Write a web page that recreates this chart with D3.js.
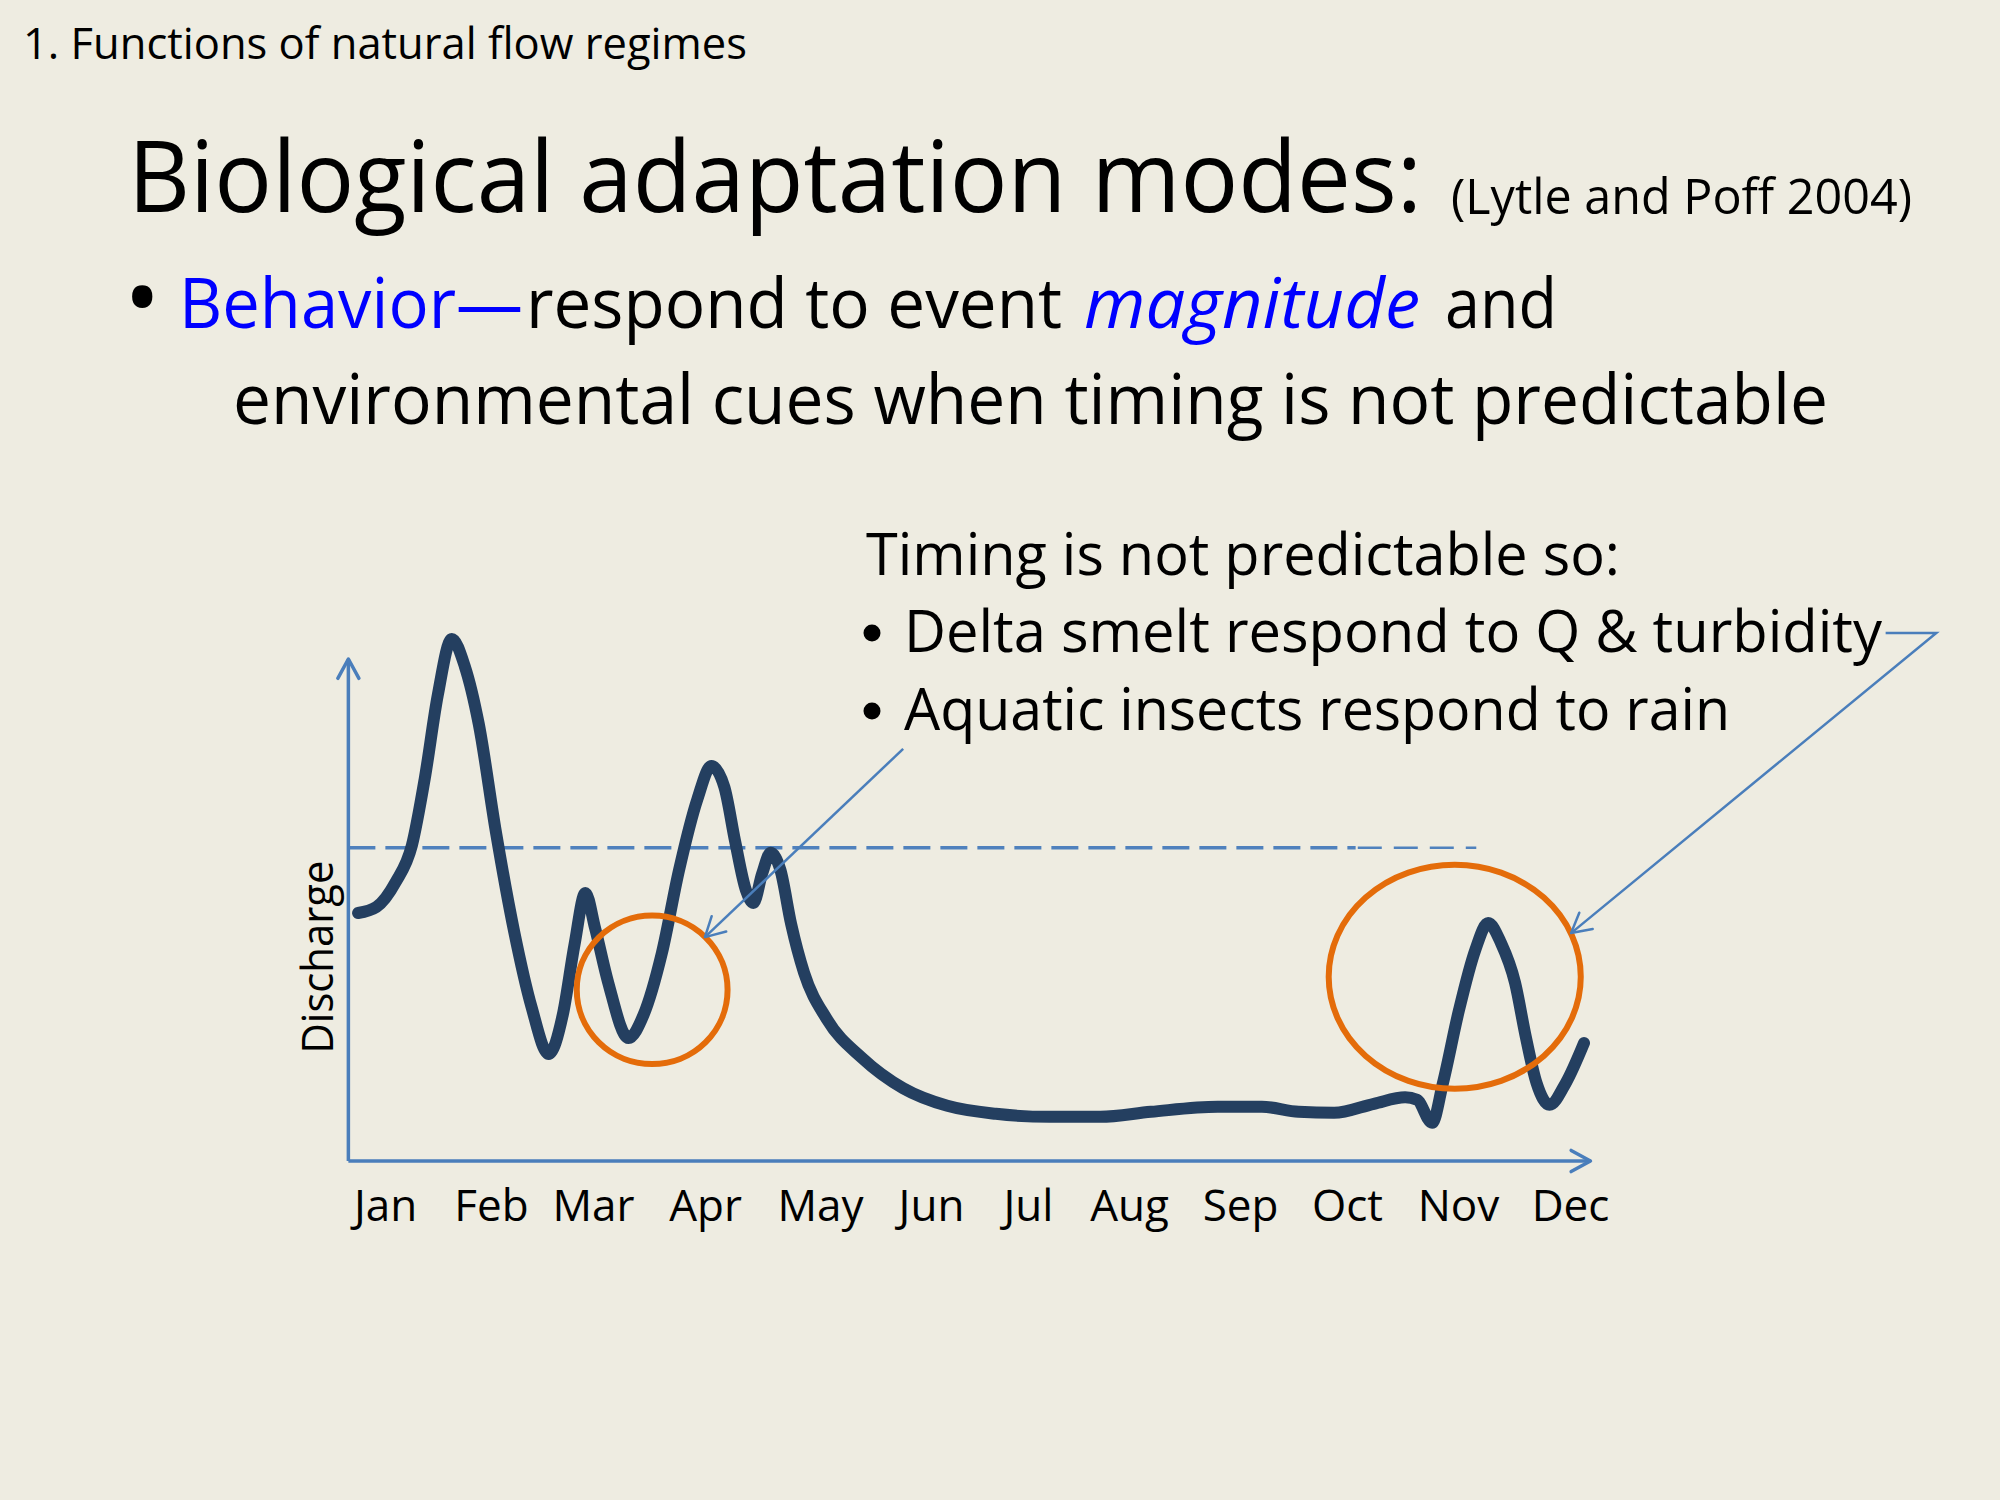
<!DOCTYPE html>
<html>
<head>
<meta charset="utf-8">
<script src="https://d3js.org/d3.v7.min.js"></script>
<style>
    body { margin: 0; background: #EEECE1; }
    text { font-family: "Open Sans", "Noto Sans", sans-serif; }
</style>
</head>
<body>
<div id="chart"></div>
<script>
// Month tick labels
const months = ['Jan', 'Feb', 'Mar', 'Apr', 'May', 'Jun', 'Jul', 'Aug', 'Sep', 'Oct', 'Nov', 'Dec'];

// Hydrograph: position in months (0 = Jan) and relative discharge
const flowMonth = [
    -0.25, -0.08, 0.10, 0.25, 0.37, 0.49, 0.62, 0.74, 0.87, 1.03,
    1.20, 1.36, 1.52, 1.65, 1.76, 1.86, 1.95, 2.07, 2.26, 2.40,
    2.57, 2.73, 2.90, 3.03, 3.15, 3.25, 3.35, 3.42, 3.50, 3.58,
    3.67, 3.77, 3.89, 4.10, 4.43, 4.81, 5.22, 5.67, 6.17, 6.64,
    7.11, 7.73, 8.14, 8.48, 8.81, 9.18, 9.47, 9.58, 9.72, 9.82,
    9.97, 10.12, 10.24, 10.36, 10.49, 10.59, 10.69, 10.81, 10.96, 11.13
];
const flowValue = [
    49.4, 50.6, 55.6, 62.9, 76.3, 92.8, 104.0, 98.6, 87.1, 65.5,
    45.6, 30.7, 21.3, 29.1, 43.2, 53.4, 46.4, 35.7, 24.5, 29.1,
    41.4, 58.0, 72.1, 78.7, 74.5, 63.7, 54.0, 51.4, 57.2, 61.4,
    58.0, 47.2, 37.5, 28.3, 20.5, 14.5, 11.0, 9.4, 8.8, 8.8,
    9.8, 10.8, 10.8, 9.8, 9.6, 11.4, 12.7, 12.2, 7.6, 15.5,
    30.1, 42.0, 47.4, 43.4, 35.5, 24.7, 15.5, 11.2, 15.5, 23.5
];

// Flood threshold (dashed line)
const thresholdValue = 62.4;

const W = 2000, H = 1500;
const axisColor = '#4A7EBB';
const flowColor = '#243F60';
const ringColor = '#E46C0A';

const svg = d3.select('#chart')
    .append('svg')
    .attr('width', W)
    .attr('height', H)
    .style('background', '#EEECE1');

// Scales
const x = d3.scaleLinear().domain([0, 11]).range([385, 1570]);
const y = d3.scaleLinear().domain([0, 100]).range([1161, 659]);
// the month labels on the slide sit in a typed text row, so spacing is a bit uneven
const xLabel = d3.scaleLinear()
    .domain(d3.range(12))
    .range([385, 491, 593, 705, 820, 931, 1028, 1129, 1240, 1347, 1458, 1570]);

// Helper for text squeezed to the width seen on the slide
function addText(str, tx, ty, size, width, opts = {}) {
    const t = svg.append('text')
        .attr('x', tx)
        .attr('y', ty)
        .attr('font-size', size)
        .attr('fill', opts.fill || '#000')
        .text(str);
    if (opts.italic) t.attr('font-style', 'italic');
    if (width) t.attr('textLength', width).attr('lengthAdjust', 'spacingAndGlyphs');
    return t;
}

// Open "V" arrow head at (x2, y2)
function arrowHead(g, x1, y1, x2, y2, len, color, width) {
    const ang = Math.atan2(y2 - y1, x2 - x1);
    const pts = [-1, 1].map(s => {
        const a = ang + Math.PI + s * 0.5;
        return [x2 + len * Math.cos(a), y2 + len * Math.sin(a)];
    });
    g.append('path')
        .attr('d', `M${pts[0][0]},${pts[0][1]}L${x2},${y2}L${pts[1][0]},${pts[1][1]}`)
        .attr('fill', 'none')
        .attr('stroke', color)
        .attr('stroke-width', width)
        .attr('stroke-linecap', 'round')
        .attr('stroke-linejoin', 'round');
}

// ---- Slide texts ----
addText('1. Functions of natural flow regimes', 23, 59, 44, 724);
addText('Biological adaptation modes:', 128, 212, 98, 1294);
addText('(Lytle and Poff 2004)', 1451, 214, 49, 461);

addText('\u2022', 124, 332, 97);
addText('Behavior\u2014', 179, 328, 69, 344, { fill: '#0000FF' });
addText('respond to event', 526, 328, 69, 536);
addText('magnitude', 1084, 328, 69, 336, { fill: '#0000FF', italic: true });
addText('and', 1445, 328, 69, 112);
addText('environmental cues when timing is not predictable', 233, 424, 69, 1595);

addText('Timing is not predictable so:', 866, 575, 59, 754);
addText('Delta smelt respond to Q & turbidity', 904, 652, 59, 978);
addText('Aquatic insects respond to rain', 904, 730, 59, 826);
// list markers of the callout box
[633, 711].forEach(cy => {
    svg.append('circle')
        .attr('cx', 872)
        .attr('cy', cy)
        .attr('r', 8.5)
        .attr('fill', '#000');
});

// ---- Chart ----
const g = svg.append('g');
const axisStart = -0.34, axisEnd = 11.19;

// Dashed threshold line (last stretch drawn thinner, as on the slide)
g.append('line')
    .attr('x1', x(axisStart)).attr('x2', x(9.01))
    .attr('y1', y(thresholdValue)).attr('y2', y(thresholdValue))
    .attr('stroke', '#4F81BD')
    .attr('stroke-width', 3.5)
    .attr('stroke-dasharray', '27,10');
g.append('line')
    .attr('x1', x(9.03)).attr('x2', x(10.13))
    .attr('y1', y(thresholdValue)).attr('y2', y(thresholdValue))
    .attr('stroke', '#4F81BD')
    .attr('stroke-width', 2.5)
    .attr('stroke-dasharray', '24,12');

// Axes with arrow tips
g.append('line')
    .attr('x1', x(axisStart)).attr('y1', y(0))
    .attr('x2', x(axisEnd)).attr('y2', y(0))
    .attr('stroke', axisColor).attr('stroke-width', 3.5);
arrowHead(g, x(axisStart), y(0), x(axisEnd), y(0), 22, axisColor, 3.5);

g.append('line')
    .attr('x1', x(axisStart)).attr('y1', y(0))
    .attr('x2', x(axisStart)).attr('y2', y(100))
    .attr('stroke', axisColor).attr('stroke-width', 3.5);
arrowHead(g, x(axisStart), y(0), x(axisStart), y(100), 22, axisColor, 3.5);

// Month labels through a d3 axis
const xAxis = d3.axisBottom(xLabel)
    .tickValues(d3.range(months.length))
    .tickFormat(i => months[i])
    .tickSize(0);
const xg = g.append('g')
    .attr('transform', `translate(0,${y(0)})`)
    .call(xAxis);
xg.select('.domain').remove();
xg.selectAll('text')
    .attr('y', 60)
    .attr('dy', 0)
    .attr('font-size', 44)
    .attr('font-family', '"Open Sans", sans-serif')
    .attr('fill', '#000');

// Y axis title
svg.append('text')
    .attr('transform', `translate(333,957) rotate(-90)`)
    .attr('text-anchor', 'middle')
    .attr('font-size', 44)
    .attr('textLength', 193)
    .attr('lengthAdjust', 'spacingAndGlyphs')
    .text('Discharge');

// Hydrograph
const flow = flowMonth.map((m, i) => ({ m, v: flowValue[i] }));
const line = d3.line()
    .x(d => x(d.m))
    .y(d => y(d.v))
    .curve(d3.curveMonotoneX);
g.append('path')
    .datum(flow)
    .attr('d', line)
    .attr('fill', 'none')
    .attr('stroke', flowColor)
    .attr('stroke-width', 12)
    .attr('stroke-linecap', 'round')
    .attr('stroke-linejoin', 'round');

// Orange rings around the unpredictable events
const rings = [
    { m: 2.48, v: 34.1, rm: 0.70, rv: 14.8 },
    { m: 9.93, v: 36.7, rm: 1.17, rv: 22.3 }
];
g.selectAll('ellipse.ring')
    .data(rings)
    .enter()
    .append('ellipse')
    .attr('class', 'ring')
    .attr('cx', d => x(d.m))
    .attr('cy', d => y(d.v))
    .attr('rx', d => x(d.m + d.rm) - x(d.m))
    .attr('ry', d => y(d.v - d.rv) - y(d.v))
    .attr('fill', 'none')
    .attr('stroke', ringColor)
    .attr('stroke-width', 6);

// Callout arrows from the text to the rings
const callouts = [
    [[4.81, 82.1], [2.97, 44.6]],
    [[13.93, 105.2], [14.40, 105.2], [11.01, 45.4]]
];
callouts.forEach(pts => {
    const px = pts.map(p => [x(p[0]), y(p[1])]);
    g.append('path')
        .attr('d', d3.line()(px))
        .attr('fill', 'none')
        .attr('stroke', axisColor)
        .attr('stroke-width', 2.5);
    const n = px.length;
    arrowHead(g, px[n - 2][0], px[n - 2][1], px[n - 1][0], px[n - 1][1], 22, axisColor, 2.5);
});
</script>
</body>
</html>
